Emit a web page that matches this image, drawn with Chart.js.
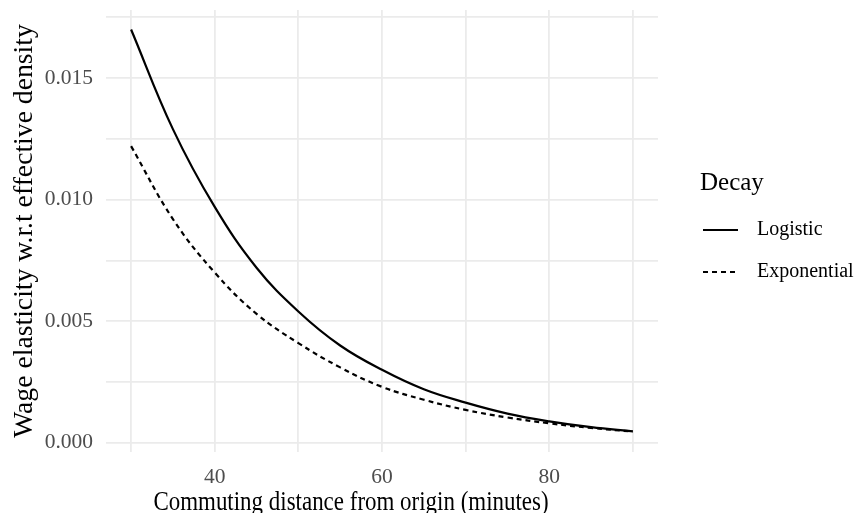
<!DOCTYPE html>
<html>
<head>
<meta charset="utf-8">
<script src="https://cdn.jsdelivr.net/npm/chart.js@4"></script>
<style>
  html, body { margin: 0; padding: 0; background: #fff; }
  #wrap { width: 859px; height: 513px; }
</style>
</head>
<body>
<div id="wrap"><canvas id="chart" width="859" height="513"></canvas></div>
<script>
// values
const minutes = [30, 35, 40, 45, 50, 55, 60, 65, 70, 75, 80, 85, 90];
const logistic = [0.0170, 0.0129, 0.0097, 0.0072, 0.0054, 0.0040, 0.0030, 0.0022, 0.00165, 0.0012, 0.00088, 0.00064, 0.00047];
const exponential = [0.0122, 0.0092, 0.0070, 0.0053, 0.0041, 0.0031, 0.0023, 0.00177, 0.00135, 0.00104, 0.00080, 0.00061, 0.00046];
const xTicks = [30, 40, 50, 60, 70, 80, 90];
const xLabels = [40, 60, 80];
const yTicks = [0, 0.0025, 0.005, 0.0075, 0.01, 0.0125, 0.015, 0.0175];
const yLabels = [0, 0.005, 0.01, 0.015];

const serif = '"Liberation Serif", "Times New Roman", serif';
const gridCol = "#ebebeb";

function pts(ys) {
    return minutes.map((m, i) => ({x: m, y: ys[i]}));
}

// ggplot style legend on the right + x title (sits a bit left of centre in the original)
const sideLegend = {
    id: "sideLegend",
    afterDraw(chart) {
        const ctx = chart.ctx;
        ctx.save();
        ctx.fillStyle = "#000";
        ctx.textAlign = "center";
        ctx.textBaseline = "alphabetic";
        // the source image is a little squashed sideways
        ctx.translate(351, 510);
        ctx.scale(0.85, 1);
        ctx.font = "27px " + serif;
        ctx.fillText("Commuting distance from origin (minutes)", 0, 0);
        ctx.restore();

        ctx.save();
        ctx.fillStyle = "#000";
        ctx.textBaseline = "middle";
        ctx.textAlign = "left";
        ctx.font = "25px " + serif;
        ctx.fillText("Decay", 700, 183);
        const rows = [230, 272];
        chart.data.datasets.forEach((ds, i) => {
            const y = rows[i];
            ctx.strokeStyle = ds.borderColor;
            ctx.lineWidth = ds.borderWidth;
            ctx.setLineDash(ds.borderDash || []);
            ctx.beginPath();
            ctx.moveTo(703, y);
            ctx.lineTo(738, y);
            ctx.stroke();
            ctx.setLineDash([]);
            ctx.font = "20px " + serif;
            ctx.fillText(ds.label, 757, y);
        });
        ctx.restore();
    }
};

const chartObj = new Chart(document.getElementById("chart").getContext("2d"), {
    type: "line",
    data: {
        datasets: [
        {
            label: "Logistic",
            data: pts(logistic),
            borderColor: "#000",
            borderWidth: 2.2,
            pointRadius: 0,
            tension: 0.4,
            fill: false,
        },
        {
            label: "Exponential",
            data: pts(exponential),
            borderColor: "#000",
            borderWidth: 2.2,
            borderDash: [5, 4],
            pointRadius: 0,
            tension: 0.4,
            fill: false,
        },
        ],
    },
    options: {
        responsive: false,
        animation: false,
        layout: {padding: {top: 10, right: 201, left: 0, bottom: 0}},
        plugins: {legend: {display: false}, tooltip: {enabled: false}},
        scales: {
            x: {
                type: "linear",
                min: 27,
                max: 93,
                afterBuildTicks: (s) => { s.ticks = xTicks.map(v => ({value: v})); },
                afterFit: (s) => { s.height = 61; s.paddingLeft = 0; s.paddingRight = 0; },
                border: {display: false},
                grid: {
                    color: gridCol,
                    lineWidth: 1.8,
                    drawTicks: false,
                },
                ticks: {
                    padding: 12,
                    color: "#4d4d4d",
                    font: {family: serif, size: 21.5},
                    maxRotation: 0,
                    autoSkip: false,
                    callback: (v) => xLabels.includes(v) ? String(v) : "",
                },
            },
            y: {
                type: "linear",
                min: -0.00038,
                max: 0.0178,
                afterBuildTicks: (s) => { s.ticks = yTicks.map(v => ({value: v})); },
                afterFit: (s) => { s.width = 106; s.paddingTop = 0; s.paddingBottom = 0; },
                border: {display: false},
                grid: {
                    color: gridCol,
                    lineWidth: 1.8,
                    drawTicks: false,
                },
                ticks: {
                    padding: 13,
                    color: "#4d4d4d",
                    font: {family: serif, size: 21.5},
                    autoSkip: false,
                    callback: (v) => yLabels.some(l => Math.abs(l - v) < 1e-9) ? v.toFixed(3) : "",
                },
                title: {
                    display: true,
                    text: "Wage elasticity w.r.t effective density",
                    color: "#000",
                    font: {family: serif, size: 27.7},
                    padding: {top: 8, bottom: 0},
                },
            },
        },
    },
    plugins: [sideLegend],
});
</script>
</body>
</html>
